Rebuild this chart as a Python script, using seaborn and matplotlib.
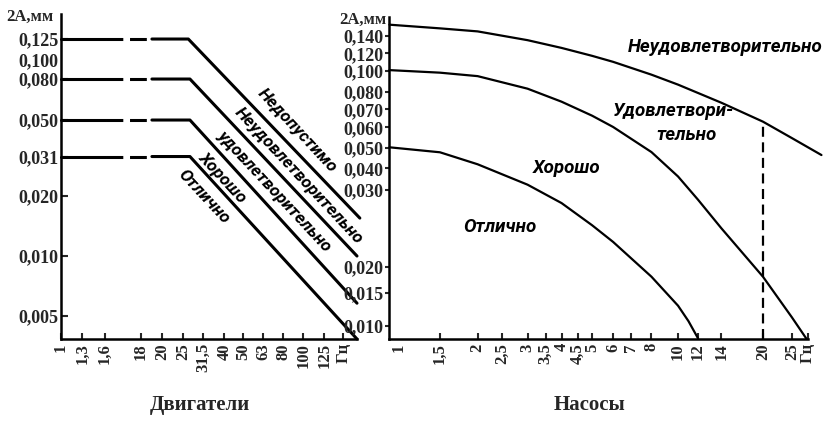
"""
Vibration severity charts: Двигатели (motors) and Насосы (pumps).
Double amplitude 2A, mm vs frequency, Hz.
"""
import numpy as np
import pandas as pd
import matplotlib
matplotlib.use("Agg")
import matplotlib.pyplot as plt
import seaborn as sns
from matplotlib import font_manager

# ── Data: motors ──────────────────────────────────────────────────────────────
MOTOR_LEVELS = [0.125, 0.080, 0.050, 0.031]          # flat part, mm
MOTOR_BEND_HZ = [26.5, 27.0, 27.0, 27.0]             # where the slope starts
MOTOR_END_HZ = [192.5, 186.5, 186.5, 186.5]
MOTOR_END_AMP = [0.0155, 0.010, 0.0058, 0.00383]
MOTOR_DASH_HZ = [1.75, 19.0]                         # dashed break on flat part
MOTOR_ZONES = ["Недопустимо", "Неудовлетворительно", "удовлетворительно",
               "Хорошо", "Отлично"]

MOTOR_XTICKS = [1, 1.3, 1.6, 18, 20, 25, 31.5, 40, 50, 63, 80, 100, 125]
MOTOR_YTICKS = [0.005, 0.010, 0.020, 0.031, 0.050, 0.080, 0.100, 0.125]

# ── Data: pumps ───────────────────────────────────────────────────────────────
PUMP_TOP_HZ = [0.91, 1.5, 2, 3, 4, 5, 6, 8, 10, 14, 20, 25, 31.4]
PUMP_TOP_AMP = [0.155, 0.150, 0.146, 0.135, 0.126, 0.117, 0.110, 0.0962,
                0.0864, 0.0736, 0.063, 0.0545, 0.0462]
PUMP_MID_HZ = [0.91, 1.5, 2, 3, 4, 5, 6, 8, 10, 12, 14, 20, 25, 27.9]
PUMP_MID_AMP = [0.101, 0.0983, 0.0947, 0.0827, 0.0742, 0.0663, 0.0602, 0.0477,
                0.0359, 0.0285, 0.0245, 0.0179, 0.0111, 0.0086]
PUMP_LOW_HZ = [0.91, 1.5, 2, 3, 4, 5, 6, 8, 10, 11, 12]
PUMP_LOW_AMP = [0.0502, 0.0476, 0.0418, 0.0322, 0.0280, 0.0249, 0.0228, 0.0179,
                0.0128, 0.0106, 0.0086]
PUMP_MARK_HZ = 20
PUMP_ZONES = ["Неудовлетворительно", "Удовлетвори-", "тельно", "Хорошо", "Отлично"]

PUMP_XTICKS = [1, 1.5, 2, 2.5, 3, 3.5, 4, 4.5, 5, 6, 7, 8, 10, 12, 14, 20, 25]
PUMP_YTICKS = [0.010, 0.015, 0.020, 0.030, 0.040, 0.050, 0.060, 0.070, 0.080,
               0.100, 0.120, 0.140]

# ── Axis calibration of the hand-drawn scales (value -> pixel) ───────────────
MOTOR_X_CAL = ([1, 1.3, 1.6, 18, 20, 25, 31.5, 40, 50, 63, 80, 100, 125, 160, 200],
               [0, 21.3, 44, 80, 101.3, 122.3, 142.3, 163.3, 182.3, 202.3, 222.3,
                242.3, 263.3, 282.3, 302.3])
MOTOR_Y_CAL = ([0.003, 0.005, 0.01, 0.02, 0.031, 0.05, 0.08, 0.1, 0.125, 0.2],
               [360, 316, 256, 196, 156.5, 120, 79, 60, 39, -1.6])
PUMP_X_CAL = ([0.8, 1, 1.5, 2, 2.5, 3, 3.5, 4, 4.5, 5, 6, 7, 8, 10, 12, 14, 20, 25, 32],
              [376.4, 399, 440, 477.7, 502.3, 527.7, 545.7, 561.7, 577.7, 592.3,
               613.3, 631.7, 651.7, 678.3, 698.3, 721.7, 763.3, 792.3, 824.3])
PUMP_Y_CAL = ([0.008, 0.01, 0.015, 0.02, 0.03, 0.04, 0.05, 0.06, 0.07, 0.08, 0.10,
               0.12, 0.14, 0.2],
              [344.3, 326, 292.7, 266.7, 190, 168.3, 147.7, 127.3, 109.3, 91.7,
               71, 53.3, 36, -4])


def calibrated_scale(values, pixels, flip=False):
    lv = np.log10(np.asarray(values, float))
    p = np.asarray(pixels, float)
    if flip:
        p = -p

    def extrap(u, xs, ys, out):
        lo, hi = u < xs[0], u > xs[-1]
        out[lo] = ys[0] + (u[lo] - xs[0]) * (ys[1] - ys[0]) / (xs[1] - xs[0])
        out[hi] = ys[-1] + (u[hi] - xs[-1]) * (ys[-1] - ys[-2]) / (xs[-1] - xs[-2])
        return out

    def fwd(x):
        x = np.asarray(x, float)
        u = np.log10(np.clip(x.ravel(), 1e-12, None))
        out = extrap(u, lv, p, np.interp(u, lv, p))
        return out.reshape(x.shape)

    def inv(y):
        y = np.asarray(y, float)
        u = y.ravel()
        out = extrap(u, p, lv, np.interp(u, p, lv))
        return (10 ** out).reshape(y.shape)

    return fwd, inv


def comma(v, fmt):
    return format(v, fmt).replace(".", ",")


sns.set_theme(style="ticks")
plt.rcParams["font.family"] = ["Liberation Serif", "DejaVu Serif"]
plt.rcParams["axes.linewidth"] = 1.8
plt.rcParams["axes.edgecolor"] = "black"

HAND = dict(family=["Roboto", "Liberation Sans", "DejaVu Sans"], style="italic",
            weight="bold", color="black")
SERIF_B = dict(family="Liberation Serif", weight="bold")
XTICK_FONT = font_manager.FontProperties(size=12, **SERIF_B)
YTICK_FONT = font_manager.FontProperties(size=13, **SERIF_B)

fig = plt.figure(figsize=(8.25, 4.28), dpi=100)
ax1 = fig.add_axes([61 / 825, 1 - 339 / 428, 296 / 825, 325 / 428])
ax2 = fig.add_axes([389 / 825, 1 - 339 / 428, 419 / 825, 322 / 428])

# ── Left: motors ──────────────────────────────────────────────────────────────
rows = []
for i, lvl in enumerate(MOTOR_LEVELS):
    pts = [("a", "solid", 1, lvl), ("a", "solid", MOTOR_DASH_HZ[0], lvl),
           ("b", "dashed", MOTOR_DASH_HZ[0], lvl), ("b", "dashed", MOTOR_DASH_HZ[1], lvl),
           ("c", "solid", MOTOR_DASH_HZ[1], lvl), ("c", "solid", MOTOR_BEND_HZ[i], lvl),
           ("c", "solid", MOTOR_END_HZ[i], MOTOR_END_AMP[i])]
    for seg, kind, f, a in pts:
        rows.append({"seg": f"{i}{seg}", "kind": kind, "f": f, "amp": a})
motors = pd.DataFrame(rows)

ax1.set_xscale("function", functions=calibrated_scale(*MOTOR_X_CAL))
ax1.set_yscale("function", functions=calibrated_scale(*MOTOR_Y_CAL, flip=True))
sns.lineplot(data=motors, x="f", y="amp", units="seg", style="kind",
             dashes={"solid": "", "dashed": (5.5, 2.2)}, estimator=None,
             sort=False, color="black", lw=2.2, legend=False, clip_on=False,
             ax=ax1)
ax1.set_xlim(1, MOTOR_END_HZ[1])
ax1.set_ylim(MOTOR_END_AMP[-1], 0.167)
ax1.set_xticks(MOTOR_XTICKS + [160],
               [comma(v, "g") for v in MOTOR_XTICKS] + ["Гц"])
ax1.set_yticks(MOTOR_YTICKS, [comma(v, ".3f") for v in MOTOR_YTICKS])
ax1.tick_params(axis="x", direction="in", length=4, width=1.5, pad=3,
                labelrotation=90)
ax1.tick_params(axis="y", direction="in", length=5, width=1.5, pad=2)
ax1.yaxis.get_major_ticks()[MOTOR_YTICKS.index(0.100)].tick1line.set_visible(False)

motor_label_pos = [(0.799, 0.640), (0.804, 0.503), (0.720, 0.455),
                   (0.546, 0.497), (0.481, 0.438)]
for name, (x, y) in zip(MOTOR_ZONES, motor_label_pos):
    ax1.text(x, y, name, transform=ax1.transAxes, rotation=-47,
             rotation_mode="anchor", ha="center", va="center", size=12.5,
             **HAND)

# ── Right: pumps ──────────────────────────────────────────────────────────────
pumps = pd.concat([
    pd.DataFrame({"f": PUMP_TOP_HZ, "amp": PUMP_TOP_AMP, "curve": "top"}),
    pd.DataFrame({"f": PUMP_MID_HZ, "amp": PUMP_MID_AMP, "curve": "mid"}),
    pd.DataFrame({"f": PUMP_LOW_HZ, "amp": PUMP_LOW_AMP, "curve": "low"}),
], ignore_index=True)

ax2.set_xscale("function", functions=calibrated_scale(*PUMP_X_CAL))
ax2.set_yscale("function", functions=calibrated_scale(*PUMP_Y_CAL, flip=True))
sns.lineplot(data=pumps, x="f", y="amp", units="curve", estimator=None,
             sort=False, color="black", lw=1.6, legend=False, clip_on=False,
             ax=ax2)
mark_amp = PUMP_TOP_AMP[PUMP_TOP_HZ.index(PUMP_MARK_HZ)]
ax2.set_xlim(0.906, 28.3)
ax2.set_ylim(0.00853, 0.166)
ax2.plot([PUMP_MARK_HZ, PUMP_MARK_HZ], [0.00853, mark_amp], color="black",
         lw=1.6, dashes=(4.5, 2.5))
ax2.set_xticks(PUMP_XTICKS + [28.25],
               [comma(v, "g") for v in PUMP_XTICKS] + ["Гц"])
ax2.set_yticks(PUMP_YTICKS, [comma(v, ".3f") for v in PUMP_YTICKS])
ax2.tick_params(axis="x", direction="in", length=4, width=1.5, pad=3,
                labelrotation=90)
ax2.tick_params(axis="y", direction="out", length=3, width=1.5, pad=1)
ax2.xaxis.get_major_ticks()[0].tick1line.set_visible(False)

pump_label_pos = [(0.802, 0.908), (0.677, 0.708), (0.709, 0.634),
                  (0.424, 0.530), (0.265, 0.349)]
for name, (x, y) in zip(PUMP_ZONES, pump_label_pos):
    ax2.text(x, y, name, transform=ax2.transAxes, ha="center", va="center",
             size=13.5, **HAND)

for ax in (ax1, ax2):
    sns.despine(ax=ax)
    ax.set_xlabel("")
    ax.set_ylabel("")
    for lab in ax.get_xticklabels():
        lab.set_fontproperties(XTICK_FONT)
    for lab in ax.get_yticklabels():
        lab.set_fontproperties(YTICK_FONT)

ax1.text(-0.027, 0.99, "2А,мм", transform=ax1.transAxes, ha="right",
         va="center", size=12, **SERIF_B)
ax2.text(-0.006, 0.99, "2А,мм", transform=ax2.transAxes, ha="right",
         va="center", size=12, **SERIF_B)

fig.text(200 / 825, 1 - 405 / 428, "Двигатели", ha="center", va="center",
         size=15, **SERIF_B)
fig.text(590 / 825, 1 - 405 / 428, "Насосы", ha="center", va="center",
         size=15, **SERIF_B)

fig.savefig("out.png", dpi=100, facecolor="white")
